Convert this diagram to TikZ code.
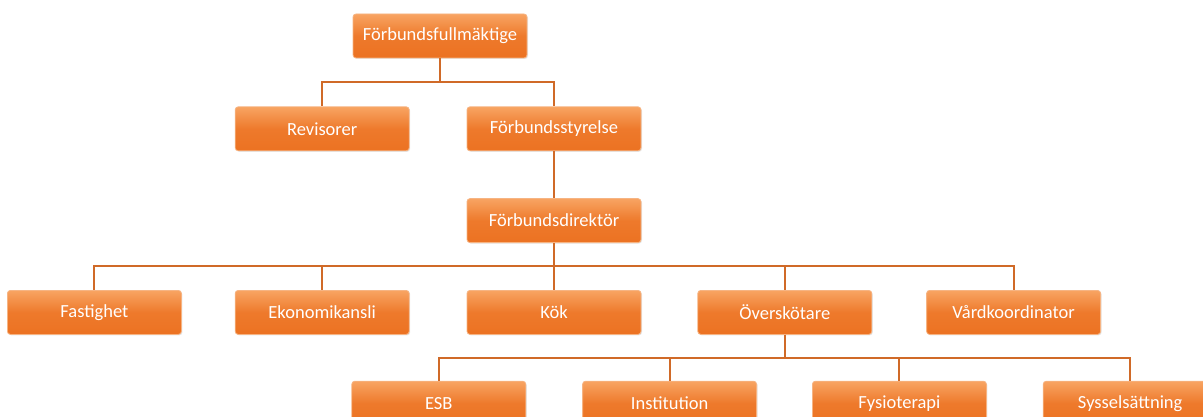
\documentclass[tikz,border=0pt]{standalone}
\usepackage{fontspec}
\setmainfont{Carlito}
\usetikzlibrary{positioning,shadows}

\definecolor{boxtop}{HTML}{F8A462}
\definecolor{boxbot}{HTML}{EC7222}
\definecolor{boxkant}{HTML}{F6B483}
\definecolor{linje}{HTML}{D06A28}

\begin{document}
\begin{tikzpicture}[x=1pt,y=1pt,node distance=57pt,
		enhet/.style={rectangle, rounded corners=3pt, draw=boxkant, line width=0.8pt, top color=boxtop, bottom color=boxbot, middle color=boxbot!85!boxtop, minimum width=174pt, minimum height=44pt, inner sep=0pt, text=white, font=\fontsize{18.5}{22}\selectfont, drop shadow={opacity=0.2, shadow xshift=1pt, shadow yshift=-1pt}},
		linje/.style={draw=linje, line width=2pt}]
			\useasboundingbox (0,0) rectangle (1203,-417);
			\node [enhet] (fm) at (440,-36) {Förbundsfullmäktige};
			\node [enhet, below=48pt of fm, xshift=114pt] (fs) {Förbundsstyrelse};
			\node [enhet, left=of fs] (rev) {Revisorer};
			\node [enhet, below=47pt of fs] (dir) {Förbundsdirektör};
			\node [enhet, below=47pt of dir] (kok) {Kök};
			\node [enhet, left=of kok] (ekon) {Ekonomikansli};
			\node [enhet, left=53pt of ekon] (fast) {Fastighet};
			\node [enhet, right=56pt of kok] (over) {Överskötare};
			\node [enhet, right=54pt of over] (vard) {Vårdkoordinator};
			\node [enhet, below=46pt of over, xshift=-346pt] (esb) {ESB};
			\node [enhet, right=56pt of esb] (inst) {Institution};
			\node [enhet, right=55pt of inst] (fysio) {Fysioterapi};
			\node [enhet, right=56pt of fysio] (syss) {Sysselsättning};
			% forbindelser
			\foreach \n in {rev,fs}
				\draw [linje] (fm.south) -- ++(0,-24) -| (\n.north);
			\draw [linje] (fs.south) -- (dir.north);
			\foreach \n in {fast,ekon,kok,over,vard}
				\draw [linje] (dir.south) -- ++(0,-23) -| (\n.north);
			\foreach \n in {esb,inst,fysio,syss}
				\draw [linje] (over.south) -- ++(0,-23) -| (\n.north);
		\end{tikzpicture}
\end{document}
